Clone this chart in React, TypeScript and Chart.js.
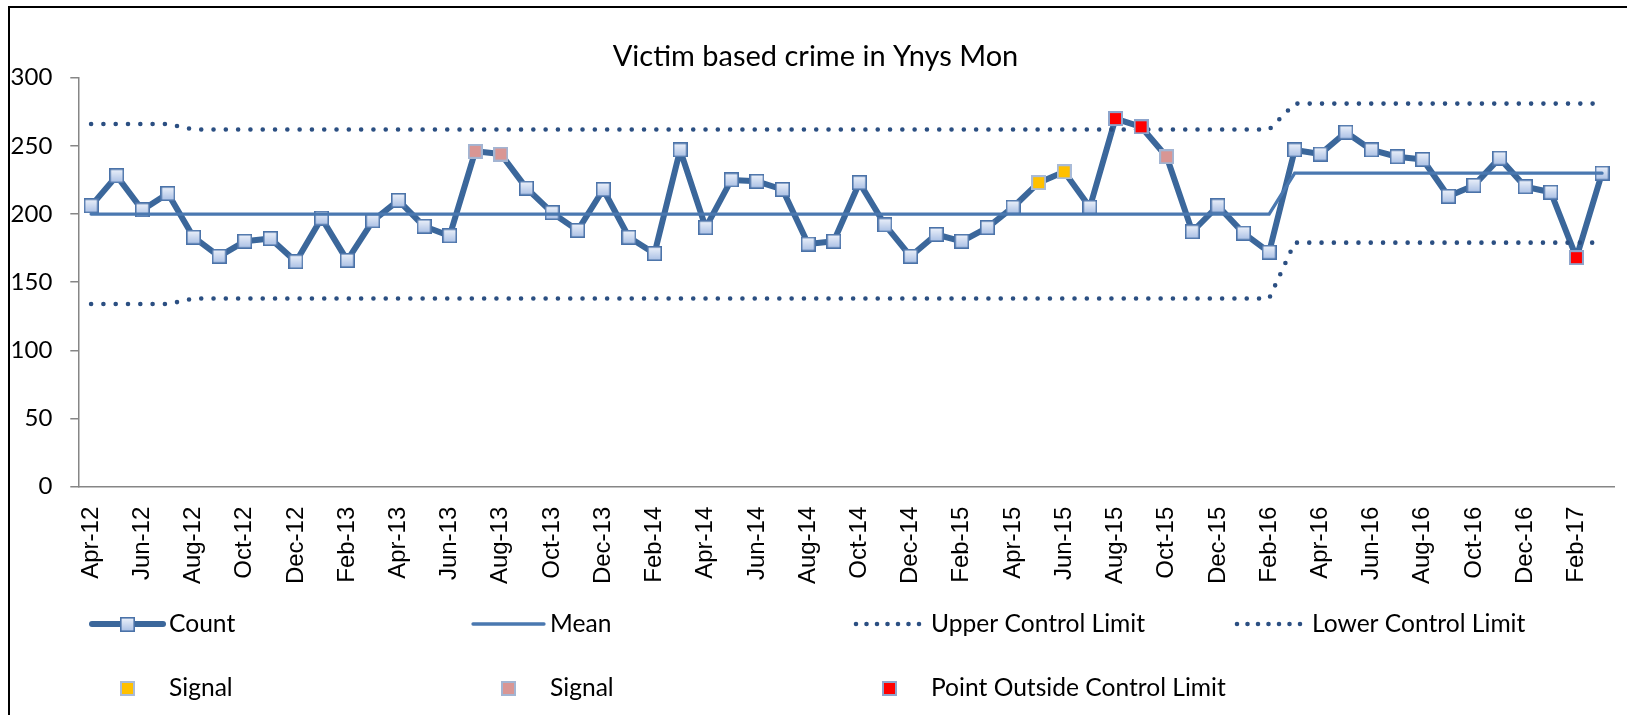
import React, { useEffect, useRef } from "react";
import { Chart, registerables } from "chart.js";

Chart.register(...registerables);

// ---------- data ----------
const months = [
  "Apr-12", "May-12", "Jun-12", "Jul-12", "Aug-12", "Sep-12", "Oct-12", "Nov-12", "Dec-12", "Jan-13", "Feb-13", "Mar-13",
  "Apr-13", "May-13", "Jun-13", "Jul-13", "Aug-13", "Sep-13", "Oct-13", "Nov-13", "Dec-13", "Jan-14", "Feb-14", "Mar-14",
  "Apr-14", "May-14", "Jun-14", "Jul-14", "Aug-14", "Sep-14", "Oct-14", "Nov-14", "Dec-14", "Jan-15", "Feb-15", "Mar-15",
  "Apr-15", "May-15", "Jun-15", "Jul-15", "Aug-15", "Sep-15", "Oct-15", "Nov-15", "Dec-15", "Jan-16", "Feb-16", "Mar-16",
  "Apr-16", "May-16", "Jun-16", "Jul-16", "Aug-16", "Sep-16", "Oct-16", "Nov-16", "Dec-16", "Jan-17", "Feb-17", "Mar-17",
];

const countValues = [
  206, 228, 203, 215, 183, 169, 180, 182, 165, 197, 166, 195,
  210, 191, 184, 246, 244, 219, 201, 188, 218, 183, 171, 247,
  190, 225, 224, 218, 178, 180, 223, 192, 169, 185, 180, 190,
  205, 223, 231, 205, 270, 264, 242, 187, 206, 186, 172, 247,
  244, 260, 247, 242, 240, 213, 221, 241, 220, 216, 168, 230,
];

const meanValues = [
  200, 200, 200, 200, 200, 200, 200, 200, 200, 200, 200, 200,
  200, 200, 200, 200, 200, 200, 200, 200, 200, 200, 200, 200,
  200, 200, 200, 200, 200, 200, 200, 200, 200, 200, 200, 200,
  200, 200, 200, 200, 200, 200, 200, 200, 200, 200, 200, 230,
  230, 230, 230, 230, 230, 230, 230, 230, 230, 230, 230, 230,
];

const uclValues = [
  266, 266, 266, 266, 262, 262, 262, 262, 262, 262, 262, 262,
  262, 262, 262, 262, 262, 262, 262, 262, 262, 262, 262, 262,
  262, 262, 262, 262, 262, 262, 262, 262, 262, 262, 262, 262,
  262, 262, 262, 262, 262, 262, 262, 262, 262, 262, 262, 281,
  281, 281, 281, 281, 281, 281, 281, 281, 281, 281, 281, 281,
];

const lclValues = [
  134, 134, 134, 134, 138, 138, 138, 138, 138, 138, 138, 138,
  138, 138, 138, 138, 138, 138, 138, 138, 138, 138, 138, 138,
  138, 138, 138, 138, 138, 138, 138, 138, 138, 138, 138, 138,
  138, 138, 138, 138, 138, 138, 138, 138, 138, 138, 138, 179,
  179, 179, 179, 179, 179, 179, 179, 179, 179, 179, 179, 179,
];

// indices (into months) of flagged points
const amberSignalIdx = [37, 38];
const pinkSignalIdx = [15, 16, 42];
const outsideLimitIdx = [40, 41, 58];

const yMin = 0;
const yMax = 300;
const yStep = 50;

const chartTitle = "Victim based crime in Ynys Mon";
const seriesNames = ["Count", "Mean", "Upper Control Limit", "Lower Control Limit", "Signal", "Signal", "Point Outside Control Limit"];

// ---------- styling ----------
const TEXT_FONT = "Lato, 'Open Sans', sans-serif";
const AXIS_FONT = "'Liberation Sans', Arial, sans-serif";
const COUNT_COLOR = "#3b679b";
const MEAN_COLOR = "#4a78b0";
const LIMIT_COLOR = "#2b4f82";
const AXIS_COLOR = "#868686";

function makeMarker(size: number, top: string, bottom: string, border: string, bw: number) {
  const c = document.createElement("canvas");
  c.width = size;
  c.height = size;
  const g = c.getContext("2d")!;
  const grad = g.createLinearGradient(0, 0, 0, size);
  grad.addColorStop(0, top);
  grad.addColorStop(1, bottom);
  g.fillStyle = grad;
  g.fillRect(0, 0, size, size);
  g.strokeStyle = border;
  g.lineWidth = bw;
  g.strokeRect(bw / 2, bw / 2, size - bw, size - bw);
  return c;
}

function pick(idx: number[]) {
  return countValues.map((v, i) => (idx.includes(i) ? v : null));
}

const legendGrid = {
  id: "legendGrid",
  afterDraw(chart: any) {
    const ctx = chart.ctx;
    const cols = [92, 473, 854, 1235];
    const rows = [624, 688];
    const lineLen = 71;
    chart.data.datasets.forEach((ds: any, i: number) => {
      const x0 = cols[i % 4];
      const y = rows[Math.floor(i / 4)];
      ctx.save();
      if (ds.showLine !== false) {
        ctx.strokeStyle = ds.borderColor;
        ctx.lineWidth = ds.borderWidth;
        ctx.lineCap = ds.borderCapStyle || "round";
        ctx.setLineDash(ds.legendDash || []);
        ctx.beginPath();
        ctx.moveTo(x0 + (ds.legendDash ? 2 : 0), y);
        ctx.lineTo(x0 + lineLen, y);
        ctx.stroke();
      }
      ctx.setLineDash([]);
      const ps = ds.pointStyle;
      if (ps && typeof ps === "object") {
        ctx.drawImage(ps, Math.round(x0 + lineLen / 2 - ps.width / 2), Math.round(y - ps.height / 2));
      }
      ctx.fillStyle = "#000";
      ctx.font = `24.6px ${TEXT_FONT}`;
      ctx.textAlign = "left";
      ctx.textBaseline = "middle";
      ctx.fillText(ds.label, x0 + lineLen + 6, y);
      ctx.restore();
    });
  },
};

const frame = {
  id: "frame",
  beforeDraw(chart: any) {
    const ctx = chart.ctx;
    ctx.save();
    ctx.fillStyle = "#fff";
    ctx.fillRect(0, 0, chart.width, chart.height);
    ctx.strokeStyle = "#000";
    ctx.lineWidth = 2;
    ctx.strokeRect(9, 7, chart.width + 100, chart.height + 100);
    ctx.restore();
  },
};

export default function App() {
  const ref = useRef<HTMLCanvasElement>(null);

  useEffect(() => {
    const countMarker = makeMarker(15, "#f0f4fb", "#a6bde4", "#4a72a8", 1.6);
    const amberMarker = makeMarker(15, "#ffc000", "#ffc000", "#a9bbd8", 2);
    const pinkMarker = makeMarker(15, "#d99694", "#d99694", "#a3b5d3", 2);
    const redMarker = makeMarker(15, "#ff0000", "#ff0000", "#8ea5cc", 2);

    const chart = new Chart(ref.current!, {
      type: "line",
      data: {
        labels: months,
        datasets: [
          {
            label: seriesNames[0],
            data: countValues,
            borderColor: COUNT_COLOR,
            borderWidth: 6,
            borderJoinStyle: "round",
            borderCapStyle: "round",
            pointStyle: countMarker as any,
            pointRadius: 7,
            tension: 0,
            order: 3,
          },
          {
            label: seriesNames[1],
            data: meanValues,
            borderColor: MEAN_COLOR,
            borderWidth: 3.3,
            borderCapStyle: "round",
            pointRadius: 0,
            tension: 0,
            order: 2,
          },
          {
            label: seriesNames[2],
            data: uclValues,
            borderColor: LIMIT_COLOR,
            borderWidth: 4.6,
            borderDash: [0, 12.3],
            legendDash: [0, 10.5],
            borderCapStyle: "round",
            pointRadius: 0,
            tension: 0,
            order: 2,
          } as any,
          {
            label: seriesNames[3],
            data: lclValues,
            borderColor: LIMIT_COLOR,
            borderWidth: 4.6,
            borderDash: [0, 12.3],
            legendDash: [0, 10.5],
            borderCapStyle: "round",
            pointRadius: 0,
            tension: 0,
            order: 2,
          } as any,
          {
            label: seriesNames[4],
            data: pick(amberSignalIdx),
            showLine: false,
            pointStyle: amberMarker as any,
            pointRadius: 7,
            order: 1,
          },
          {
            label: seriesNames[5],
            data: pick(pinkSignalIdx),
            showLine: false,
            pointStyle: pinkMarker as any,
            pointRadius: 7,
            order: 1,
          },
          {
            label: seriesNames[6],
            data: pick(outsideLimitIdx),
            showLine: false,
            pointStyle: redMarker as any,
            pointRadius: 7,
            order: 1,
          },
        ],
      },
      options: {
        responsive: false,
        animation: false,
        layout: { padding: { left: 0, right: 20, top: 0, bottom: 0 } },
        plugins: {
          legend: { display: false },
          tooltip: { enabled: false },
          title: {
            display: true,
            text: chartTitle,
            color: "#000",
            font: { family: TEXT_FONT, size: 29, weight: "normal" as any, lineHeight: 1.2 },
            padding: { top: 39.6, bottom: 3.3 },
          },
        },
        scales: {
          x: {
            type: "category",
            offset: true,
            grid: { display: true, drawOnChartArea: false, drawTicks: false, color: AXIS_COLOR },
            border: { display: true, color: AXIS_COLOR, width: 1.5 },
            ticks: {
              autoSkip: false,
              maxRotation: 90,
              minRotation: 90,
              padding: 20,
              color: "#000",
              font: { family: AXIS_FONT, size: 24 },
              callback: (_v: any, i: number) => (i % 2 === 0 ? months[i] : ""),
            },
            afterFit: (s: any) => {
              s.height = 228.3;
            },
          },
          y: {
            min: yMin,
            max: yMax,
            grid: { display: true, drawOnChartArea: false, drawTicks: true, tickLength: 8, color: AXIS_COLOR, lineWidth: 1.5 },
            border: { display: true, color: AXIS_COLOR, width: 1.5 },
            ticks: {
              stepSize: yStep,
              padding: 18,
              color: "#000",
              font: { family: TEXT_FONT, size: 24 },
            },
            afterFit: (s: any) => {
              s.width = 78.3;
            },
          },
        },
      },
      plugins: [frame, legendGrid],
    });
    return () => chart.destroy();
  }, []);

  return (
    <div style={{ position: "fixed", left: 0, top: 0, width: 1627, height: 715, overflow: "hidden", background: "#fff" }}>
      <canvas ref={ref} width={1651} height={715} style={{ display: "block" }} />
    </div>
  );
}
